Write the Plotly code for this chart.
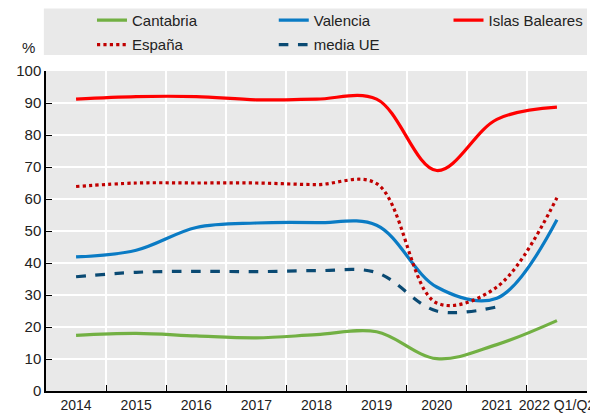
import plotly.graph_objects as go

years = ["2014", "2015", "2016", "2017", "2018", "2019", "2020", "2021", "2022 Q1/Q2"]

cantabria = [17.4, 18.0, 17.2, 16.6, 17.6, 18.5, 10.1, 14.5, 22.0]
valencia = [41.9, 44.0, 51.1, 52.5, 52.6, 51.8, 32.5, 29.0, 53.5]
baleares = [91.2, 92.0, 92.0, 91.0, 91.2, 91.2, 68.9, 84.9, 88.7]
espana = [63.9, 65.0, 65.0, 65.0, 64.5, 64.8, 27.5, 32.5, 60.4]
media_ue = [35.7, 37.1, 37.4, 37.3, 37.6, 37.0, 25.0, 26.3, None]

# name, values, colour, dash, legend column
series = [
    ("Cantabria", cantabria, "#72B043", "solid", "legend"),
    ("Valencia", valencia, "#0A7BC4", "solid", "legend2"),
    ("Islas Baleares", baleares, "#FF0000", "solid", "legend3"),
    ("España", espana, "#C00000", "dot", "legend"),
    ("media UE", media_ue, "#0A4A73", "dash", "legend2"),
]

fig = go.Figure()
for name, vals, color, dash, leg in series:
    fig.add_trace(go.Scatter(
        x=years, y=vals, name=name, mode="lines", legend=leg, legendgroup=name,
        line=dict(color=color, width=3.2, dash=dash, shape="spline", smoothing=1),
        connectgaps=False,
    ))

FONT = "Liberation Sans, Arial, sans-serif"

# grey band behind the legend
fig.add_shape(type="rect", xref="paper", yref="paper",
              x0=-0.004, x1=1, y0=1.05, y1=1.195,
              fillcolor="#E9E9E9", line=dict(width=0), layer="below")

fig.add_annotation(text="%", xref="paper", yref="paper", x=-0.033, y=1.075,
                   xanchor="center", yanchor="middle",
                   showarrow=False, font=dict(size=15, color="#222", family=FONT))

leg_common = dict(orientation="v", xref="paper", yref="paper",
                  xanchor="left", yanchor="top", y=1.21,
                  bgcolor="rgba(0,0,0,0)", tracegroupgap=2,
                  font=dict(size=15, color="#222", family=FONT),
                  traceorder="grouped", itemwidth=30)

# page body adds 8px, so the figure is drawn 8px smaller
fig.update_layout(
    width=590, height=406,
    margin=dict(l=38, r=11, t=63, b=23, autoexpand=False),
    paper_bgcolor="white", plot_bgcolor="#E9E9E9",
    font=dict(family=FONT, size=15, color="#222"),
    showlegend=True,
    legend=dict(x=0.085, **leg_common),
    legend2=dict(x=0.421, **leg_common),
    legend3=dict(x=0.744, **leg_common),
    xaxis=dict(type="category", tickson="boundaries", ticks="inside", ticklen=6,
               tickcolor="black", showline=True, linecolor="black", linewidth=1.5,
               showgrid=True, gridcolor="white", gridwidth=1.5, tickangle=0,
               tickfont=dict(size=14, color="#222"), range=[-0.5, 8.5]),
    yaxis=dict(range=[0, 100], dtick=10, ticks="inside", ticklen=6, tickcolor="black",
               showline=True, linecolor="black", linewidth=1.5,
               showgrid=True, gridcolor="white", gridwidth=1.5, zeroline=False,
               tickfont=dict(size=15, color="#222")),
)

fig.write_html("out.html")
